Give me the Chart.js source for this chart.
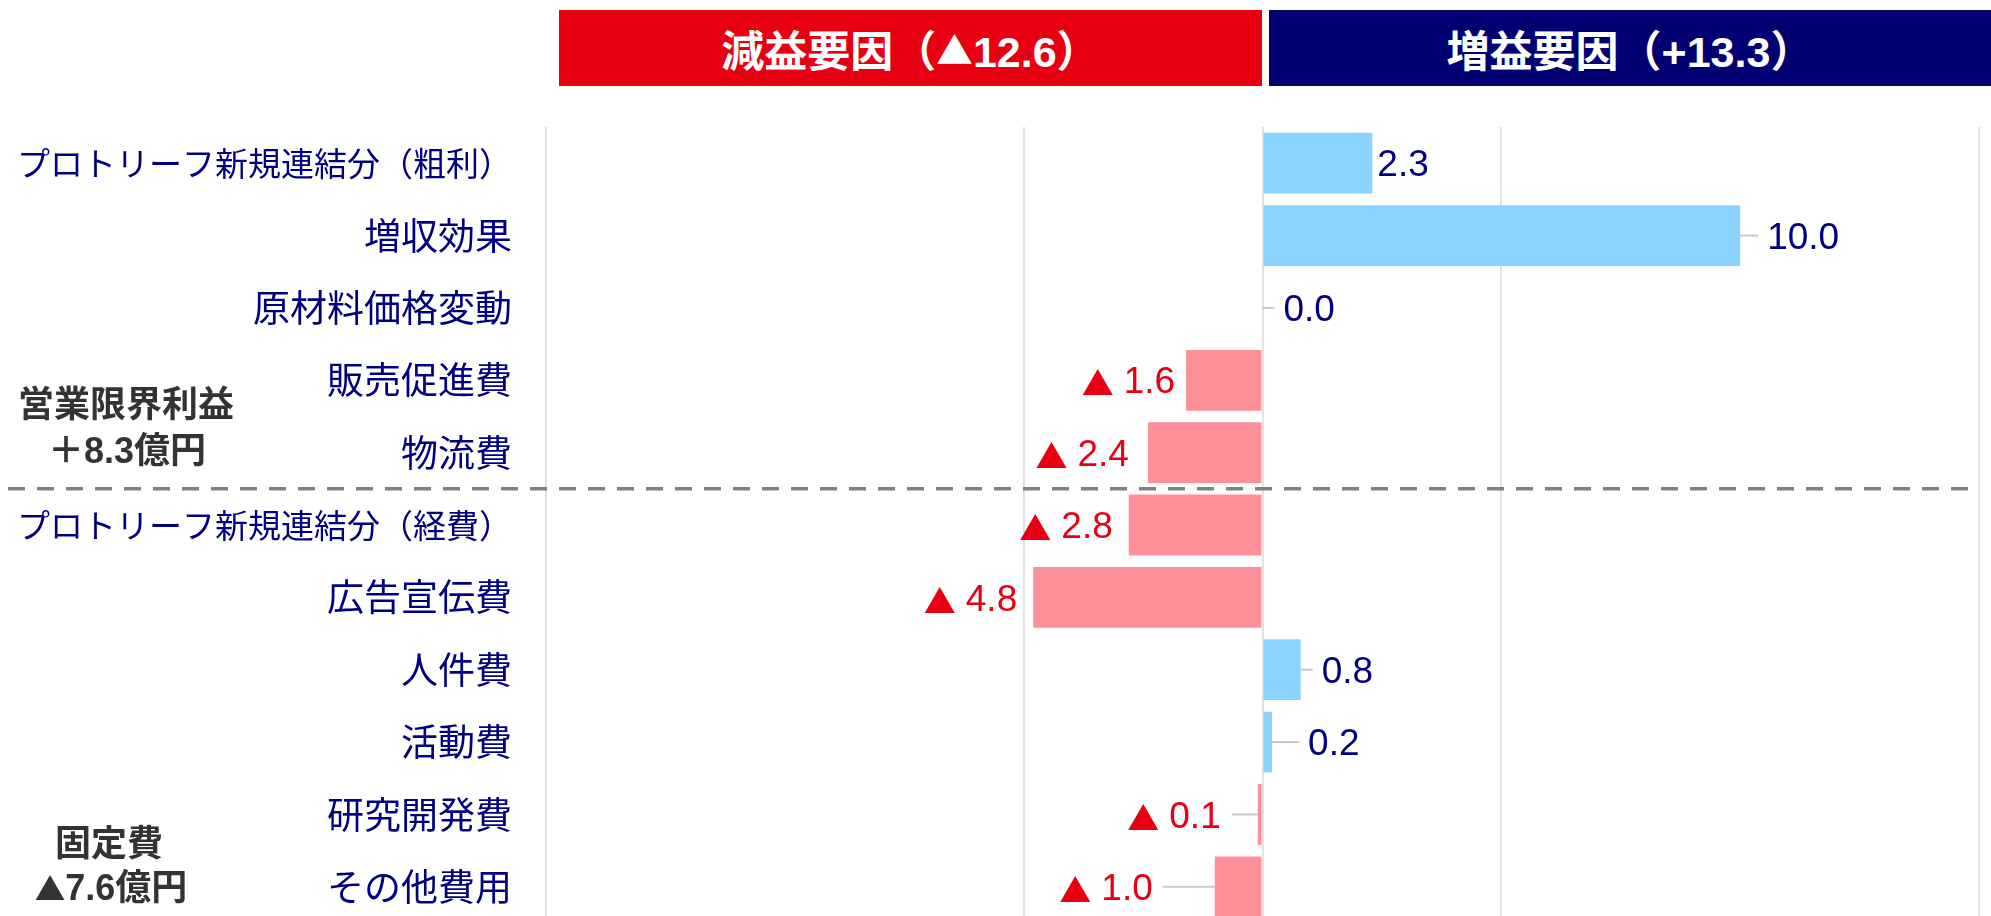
<!DOCTYPE html>
<html lang="ja">
<head>
<meta charset="utf-8">
<script src="https://cdn.jsdelivr.net/npm/chart.js@4/dist/chart.umd.min.js"></script>
<style>
  html, body { margin: 0; padding: 0; background: #fff; overflow: hidden; }
  #wrap { position: absolute; left: 0; top: 0; width: 1991px; height: 923px; }
  .head {
    position: absolute; top: 10px; height: 76px;
    color: #fff; font: bold 43px "Liberation Sans", "Noto Sans CJK JP", sans-serif;
    display: flex; align-items: center; justify-content: center;
  }
  #headMinus { left: 559px; width: 703px; background: #e60012; }
  #headPlus  { left: 1269px; width: 722px; background: #000073; }
  .group {
    position: absolute; transform: translate(-50%, -50%); white-space: nowrap;
    color: #333; font: bold 36px "Liberation Sans", "Noto Sans CJK JP", sans-serif;
  }
  .tri { font-family: "Noto Sans CJK JP", sans-serif; font-size: 0.85em; }
</style>
</head>
<body>
<div id="wrap"><canvas id="chart"></canvas></div>
<div class="head" id="headMinus">減益要因（<span class="tri">▲</span>12.6）</div>
<div class="head" id="headPlus">増益要因（+13.3）</div>
<div class="group" style="left:126px; top:401px">営業限界利益</div>
<div class="group" style="left:127px; top:447px">＋8.3億円</div>
<div class="group" style="left:109px; top:840px">固定費</div>
<div class="group" style="left:111px; top:884px"><span class="tri">▲</span>7.6億円</div>
<script>
/* ── データ ───────────────────────────────── */

const CATEGORIES = [
  "プロトリーフ新規連結分（粗利）",
  "増収効果",
  "原材料価格変動",
  "販売促進費",
  "物流費",
  "プロトリーフ新規連結分（経費）",
  "広告宣伝費",
  "人件費",
  "活動費",
  "研究開発費",
  "その他費用",
];

const VALUES = [2.3, 10.0, 0.0, -1.6, -2.4, -2.8, -4.8, 0.8, 0.2, -0.1, -1.0];

// 目盛り（±10 は線なし）
const X_MIN = -15;
const X_MAX = 15;
const X_STEP = 5;
const HIDDEN_GRID = [-10, 10];

// ラベルの位置（バー端からの距離 / 引き出し線の長さ）
const LABEL_GAP   = [5, 27, 21, 11, 19, 16, 16, 21, 36, 37, 62];
const LEADER_LEN  = [0, 18, 12, 0, 0, 0, 0, 12, 27, 26, 52];

const C_PLUS_BAR  = "#8ad4ff";
const C_MINUS_BAR = "#ff8f99";
const C_NAVY      = "#000080";
const C_RED       = "#e60012";

const NUM_FONT = "37px 'Liberation Sans', Arial, sans-serif";
const TRI_FONT = "32px 'Noto Sans CJK JP', sans-serif";

/* ── プラグイン ───────────────────────────── */

// 値ラベル + 引き出し線
const valueLabels = {
  id: "valueLabels",
  afterDatasetsDraw(chart) {
    const ctx = chart.ctx;
    const meta = chart.getDatasetMeta(0);
    const zeroX = chart.scales.x.getPixelForValue(0);
    ctx.save();
    ctx.textBaseline = "middle";
    meta.data.forEach((bar, i) => {
      const v = VALUES[i];
      const neg = v < 0;
      const end = bar.x;
      const y = bar.y;
      const ty = y + 3;
      const gap = LABEL_GAP[i];
      const lead = LEADER_LEN[i];
      if (lead > 0) {
        ctx.strokeStyle = "#c8c8c8";
        ctx.lineWidth = 2;
        ctx.beginPath();
        ctx.moveTo(end, y);
        ctx.lineTo(neg ? end - lead : end + lead, y);
        ctx.stroke();
      }
      if (neg) {
        const x = Math.min(end, zeroX) - gap;
        const txt = Math.abs(v).toFixed(1);
        ctx.fillStyle = C_RED;
        ctx.textAlign = "right";
        ctx.font = NUM_FONT;
        ctx.fillText(txt, x, ty);
        const w = ctx.measureText(txt).width + 10;
        ctx.font = TRI_FONT;
        ctx.fillText("▲", x - w, ty);
      } else {
        ctx.fillStyle = C_NAVY;
        ctx.textAlign = "left";
        ctx.font = NUM_FONT;
        ctx.fillText(v.toFixed(1), end + gap, ty);
      }
    });
    ctx.restore();
  }
};

// 営業限界利益 / 固定費 の区切り線
const divider = {
  id: "divider",
  afterDraw(chart) {
    const y = chart.scales.y;
    const yy = (y.getPixelForValue(4) + y.getPixelForValue(5)) / 2;
    const ctx = chart.ctx;
    ctx.save();
    ctx.strokeStyle = "#808080";
    ctx.lineWidth = 3.5;
    ctx.setLineDash([17, 12]);
    ctx.beginPath();
    ctx.moveTo(8, yy);
    ctx.lineTo(chart.chartArea.right - 4, yy);
    ctx.stroke();
    ctx.restore();
  }
};

/* ── チャート ─────────────────────────────── */

new Chart(document.getElementById("chart"), {
  type: "bar",
  data: {
    labels: CATEGORIES,
    datasets: [{
      data: VALUES,
      backgroundColor: VALUES.map(v => v < 0 ? C_MINUS_BAR : C_PLUS_BAR),
      borderWidth: 0,
      barPercentage: 0.84,
      categoryPercentage: 1,
    }]
  },
  options: {
    indexAxis: "y",
    responsive: true,
    maintainAspectRatio: false,
    animation: false,
    layout: { padding: { top: 127, right: 12, bottom: 0, left: 0 } },
    plugins: { legend: { display: false }, tooltip: { enabled: false } },
    scales: {
      x: {
        min: X_MIN,
        max: X_MAX,
        border: { display: false },
        ticks: { display: false, stepSize: X_STEP },
        afterFit: s => { s.height = 0; },
        grid: {
          drawTicks: false,
          tickLength: 0,
          lineWidth: 2,
          color: c => HIDDEN_GRID.includes(c.tick.value) ? "rgba(0,0,0,0)" : "#e2e2e2",
        },
      },
      y: {
        border: { display: false },
        grid: { display: false, drawTicks: false },
        afterFit: s => { s.width = 546; s.paddingTop = 0; s.paddingBottom = 0; },
        ticks: {
          autoSkip: false,
          padding: 34,
          color: C_NAVY,
          font: c => ({
            family: "'Noto Sans CJK JP', sans-serif",
            size: CATEGORIES[c.index] && CATEGORIES[c.index].length > 10 ? 33 : 37,
          }),
        },
      }
    }
  },
  plugins: [valueLabels, divider]
});
</script>
</body>
</html>
